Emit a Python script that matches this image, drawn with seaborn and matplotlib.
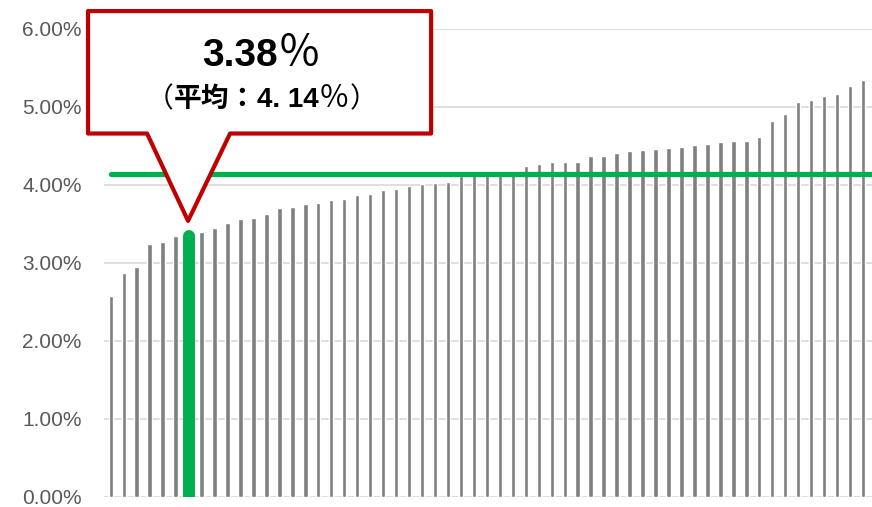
import numpy as np
import matplotlib
matplotlib.use('Agg')
import matplotlib.pyplot as plt
from matplotlib.patches import Polygon
from matplotlib.ticker import StrMethodFormatter
from matplotlib.transforms import ScaledTranslation
import seaborn as sns

# interest rates, sorted ascending (%)
rates = [2.58, 2.87, 2.95, 3.25, 3.27, 3.35, 3.38, 3.40, 3.45, 3.51,
         3.57, 3.58, 3.63, 3.70, 3.72, 3.76, 3.77, 3.81, 3.82, 3.87,
         3.89, 3.93, 3.95, 3.99, 4.01, 4.03, 4.04, 4.12, 4.13, 4.14,
         4.15, 4.18, 4.24, 4.27, 4.30, 4.30, 4.30, 4.37, 4.37, 4.41,
         4.43, 4.45, 4.46, 4.48, 4.49, 4.51, 4.53, 4.55, 4.56, 4.56,
         4.62, 4.82, 4.91, 5.07, 5.09, 5.14, 5.17, 5.27, 5.35]
highlight_idx = 6
highlight_value = 3.38
average = 4.14
yticks = [0, 1, 2, 3, 4, 5, 6]

GRAY = '#808080'
GREEN = '#00B050'
RED = '#C00000'
LATIN = ['Liberation Sans', 'Noto Sans CJK JP']
CJK = ['Noto Sans CJK JP', 'DejaVu Sans']

sns.set_style('white')
plt.rcParams['font.family'] = ['Liberation Sans', 'Noto Sans CJK JP', 'DejaVu Sans']

fig = plt.figure(figsize=(8.72, 5.07), dpi=100)
ax = fig.add_axes([104 / 872, 10 / 507, 1 - 104 / 872, (497 - 29) / 507])

idx = np.arange(len(rates))
sns.barplot(x=idx, y=rates, color=GRAY, width=0.34, saturation=1, ax=ax, zorder=2)

# highlighted bar drawn as thick rounded line
ax.plot([highlight_idx, highlight_idx], [0, highlight_value - 0.04], color=GREEN,
        lw=8.6, solid_capstyle='round', zorder=3)

# average line
ax.plot([0, len(rates)], [average, average], color=GREEN, lw=3.8,
        solid_capstyle='round', zorder=4)

ax.set_xlim(-0.52, len(rates) - 1 + 0.69)
ax.set_ylim(0, 6)
ax.set_yticks(yticks)
ax.yaxis.set_major_formatter(StrMethodFormatter('{x:.2f}%'))
ax.set_xticks([])
ax.set_xlabel('')
ax.set_ylabel('')
ax.tick_params(axis='y', length=0, pad=16, labelsize=15, labelcolor='#595959')
ax.grid(axis='y', color='#D9D9D9', lw=1.2, zorder=0)
ax.set_axisbelow(True)
for s in ax.spines.values():
    s.set_visible(False)

# callout box
bx0, bx1 = highlight_idx - 7.75, highlight_idx + 18.7
by0, by1 = 4.66, 6.23
px0, px1 = highlight_idx - 3.2, highlight_idx + 3.2
tip = (highlight_idx - 0.04, 3.54)
verts = [(bx0, by0), (bx0, by1), (bx1, by1), (bx1, by0), (px1, by0), tip, (px0, by0)]
callout = Polygon(verts, closed=True, facecolor='white', edgecolor=RED, lw=3.0,
                  joinstyle='round', zorder=6, clip_on=False)
ax.add_patch(callout)


def centered_pieces(x, y, pieces):
    # lay out text runs side by side on one baseline, centred on x
    renderer = fig.canvas.get_renderer()
    texts = [ax.text(x, y, s, ha='left', va='baseline', zorder=7, color='black', **kw)
             for s, kw in pieces]
    widths = [t.get_window_extent(renderer).width for t in texts]
    off = -sum(widths) / 2
    for t, w in zip(texts, widths):
        t.set_transform(ax.transData + ScaledTranslation(off / fig.dpi, 0, fig.dpi_scale_trans))
        off += w


cx = (bx0 + bx1) / 2 + 0.15
centered_pieces(cx, 5.52, [
    ("3.38", dict(family=LATIN, fontsize=28, fontweight='bold')),
    ("％", dict(family=CJK, fontsize=31, fontweight='normal')),
])
centered_pieces(cx, 5.0, [
    ("（", dict(family=CJK, fontsize=20, fontweight='normal')),
    ("平均：", dict(family=CJK, fontsize=20, fontweight='bold')),
    ("4. 14", dict(family=LATIN, fontsize=20, fontweight='bold')),
    ("％", dict(family=CJK, fontsize=22, fontweight='normal')),
    ("）", dict(family=CJK, fontsize=20, fontweight='normal')),
])

fig.savefig('out.png', dpi=100)
